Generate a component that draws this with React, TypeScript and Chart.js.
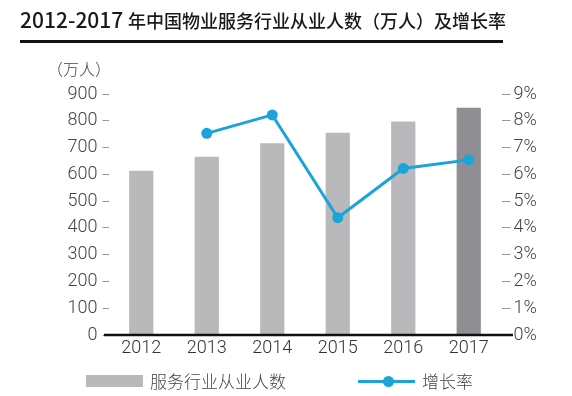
import React, { useEffect, useRef } from "react";
import { Chart, registerables } from "chart.js";

Chart.register(...registerables);

const categories = ["2012", "2013", "2014", "2015", "2016", "2017"];
const employees = [613, 666, 716, 755, 797, 849];
const growthRate = [null, 7.53, 8.22, 4.38, 6.22, 6.54];
const leftTicksMax = 900;
const rightTicksMax = 9;

const BAR_COLOR = "#b9b9bc";
const BAR_LAST = "#8f8f93";
const LINE_COLOR = "#1ba3da";
const TICK_FONT = "Roboto, 'Liberation Sans', sans-serif";
const CJK_FONT = "'Noto Sans CJK SC', 'Noto Sans', sans-serif";

const baselinePlugin = {
  id: "baseline",
  afterDraw(chart: any) {
    const { ctx, chartArea } = chart;
    ctx.save();
    ctx.fillStyle = "#111";
    ctx.fillRect(chartArea.left - 4.5, chartArea.bottom - 1.25, chartArea.right - chartArea.left + 16, 2.5);
    ctx.restore();
  },
};

export default function App() {
  const ref = useRef<HTMLCanvasElement | null>(null);

  useEffect(() => {
    document.body.style.margin = "0";
    const canvas = ref.current;
    if (!canvas) return;
    const chart = new Chart(canvas, {
      type: "bar",
      data: {
        labels: categories,
        datasets: [
          {
            type: "line",
            label: "增长率",
            data: growthRate as any,
            yAxisID: "y1",
            borderColor: LINE_COLOR,
            backgroundColor: LINE_COLOR,
            borderWidth: 3,
            pointRadius: 5.5,
            pointBorderWidth: 0,
            pointBackgroundColor: LINE_COLOR,
            tension: 0,
            order: 0,
          } as any,
          {
            type: "bar",
            label: "服务行业从业人数",
            data: employees,
            yAxisID: "y",
            backgroundColor: employees.map((_, i) => (i === employees.length - 1 ? BAR_LAST : BAR_COLOR)),
            barPercentage: 0.37,
            categoryPercentage: 1,
            order: 1,
          } as any,
        ],
      },
      options: {
        responsive: false,
        animation: false,
        layout: { padding: { top: 94, left: 0, right: 0, bottom: 0 } },
        plugins: {
          legend: { display: false },
          tooltip: { enabled: false },
          title: { display: false },
        },
        scales: {
          x: {
            grid: { display: false, drawTicks: false },
            border: { display: false },
            ticks: { font: { family: TICK_FONT, size: 18, weight: "300" as any }, color: "#333", padding: 3 },
            afterFit: (s: any) => {
              s.height = 61;
            },
          },
          y: {
            position: "left",
            min: 0,
            max: leftTicksMax,
            ticks: { stepSize: 100, font: { family: TICK_FONT, size: 18, weight: "300" as any }, color: "#444", padding: 5 },
            grid: { drawOnChartArea: false, tickLength: 6, color: "#999" },
            border: { display: false },
            afterFit: (s: any) => {
              s.width = 108.5;
            },
          },
          y1: {
            position: "right",
            min: 0,
            max: rightTicksMax,
            ticks: {
              stepSize: 1,
              font: { family: TICK_FONT, size: 18, weight: "300" as any },
              color: "#444",
              padding: 3,
              callback: (v: any) => v + "%",
            },
            grid: { drawOnChartArea: false, tickLength: 9, color: "#999" },
            border: { display: false },
            afterFit: (s: any) => {
              s.width = 70.5;
            },
          },
        },
      },
      plugins: [baselinePlugin],
    });
    return () => chart.destroy();
  }, []);

  const abs = (o: React.CSSProperties): React.CSSProperties => ({ position: "absolute", ...o });

  return (
    <div style={{ position: "absolute", left: 0, top: 0, width: 572, height: 396, background: "#fff", overflow: "hidden" }}>
      <canvas ref={ref} width={572} height={396} style={abs({ left: 0, top: 0, width: 572, height: 396 })} />
      <div
        style={abs({
          left: 20,
          top: 6,
          fontFamily: CJK_FONT,
          fontSize: 18,
          fontWeight: 500,
          lineHeight: "26px",
          color: "#1a1a1a",
          whiteSpace: "nowrap",
        })}
      >
        <span style={{ fontSize: 21 }}>2012-2017 </span>年中国物业服务行业从业人数（万人）及增长率
      </div>
      <div style={abs({ left: 20, top: 40, width: 483, height: 3, background: "#111" })} />
      <div style={abs({ left: 47, top: 57, fontFamily: CJK_FONT, fontSize: 16, fontWeight: 300, lineHeight: "22px", color: "#444", whiteSpace: "nowrap" })}>
        （万人）
      </div>
      <div style={abs({ left: 86, top: 375, width: 57, height: 12, background: BAR_COLOR })} />
      <div style={abs({ left: 150, top: 369, fontFamily: CJK_FONT, fontSize: 17, fontWeight: 300, lineHeight: "24px", color: "#444", whiteSpace: "nowrap" })}>
        服务行业从业人数
      </div>
      <div style={abs({ left: 358, top: 379.5, width: 57, height: 3, background: LINE_COLOR })} />
      <div style={abs({ left: 382.5, top: 375.5, width: 11, height: 11, borderRadius: "50%", background: LINE_COLOR })} />
      <div style={abs({ left: 422, top: 369, fontFamily: CJK_FONT, fontSize: 17, fontWeight: 300, lineHeight: "24px", color: "#444", whiteSpace: "nowrap" })}>
        增长率
      </div>
    </div>
  );
}
